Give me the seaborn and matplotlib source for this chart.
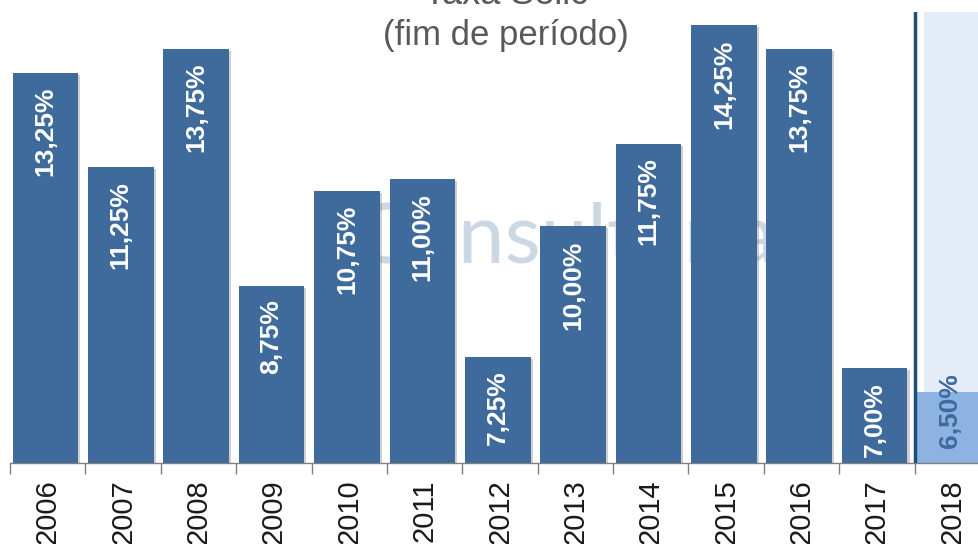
import matplotlib
matplotlib.use('Agg')
import matplotlib.pyplot as plt
import seaborn as sns
import pandas as pd
import numpy as np
from matplotlib import patheffects as pe

years = ['2006', '2007', '2008', '2009', '2010', '2011', '2012',
         '2013', '2014', '2015', '2016', '2017', '2018']
values = [13.25, 11.25, 13.75, 8.75, 10.75, 11.00, 7.25,
          10.00, 11.75, 14.25, 13.75, 7.00, 6.50]
labels = ['13,25%', '11,25%', '13,75%', '8,75%', '10,75%', '11,00%', '7,25%',
          '10,00%', '11,75%', '14,25%', '13,75%', '7,00%', '6,50%']
title_top = 'Taxa Selic'
title_sub = '(fim de período)'
watermark = 'Consultoria'

sns.set_theme(style='white')
plt.rcParams['font.family'] = ['Liberation Sans', 'DejaVu Sans']

W, H = 979, 544
fig = plt.figure(figsize=(W / 100, H / 100), dpi=100)
ax = fig.add_axes([10 / W, 81 / H, 980 / W, 451 / H])

dark = '#3E6A9C'
light = '#8DB3E2'
colors = [dark] * 12 + [light]
df = pd.DataFrame({'year': years, 'value': values})

ax.axvspan(11.66, 12.6, color='#E4ECF7', zorder=0, lw=0)
ax.text(355 / W, 1 - 262 / H, watermark, transform=fig.transFigure,
        fontsize=60, color='#CBD7E2', zorder=1, ha='left', va='baseline',
        family=['Lato', 'DejaVu Sans'])

sns.barplot(data=df, x='year', y='value', hue='year', palette=colors,
            width=0.87, legend=False, ax=ax, saturation=1, zorder=3)
for p in ax.patches:
    p.set_x(p.get_x() - 0.03)
    p.set_path_effects([pe.SimplePatchShadow(offset=(1.5, -1.5), shadow_rgbFace='#777777', alpha=0.35),
                        pe.Normal()])
    p.set_linewidth(0)

ax.set_ylim(5, 14.53)
ax.set_xlim(-0.5, 12.5)
ax.axvline(11.5, color='#1F4E79', lw=2.5, zorder=5)

for i, (v, lab) in enumerate(zip(values, labels)):
    if i < 12:
        ax.annotate(lab, (i - 0.03, v), xytext=(0, -10), textcoords='offset points',
                    rotation=90, ha='center', va='top', color='white',
                    fontsize=19, fontweight='bold', zorder=6)
    else:
        ax.annotate(lab, (i - 0.03, 5), xytext=(0, 11), textcoords='offset points',
                    rotation=90, ha='center', va='bottom', color=dark,
                    fontsize=19, fontweight='bold', zorder=6)

for s in ['left', 'right', 'top']:
    ax.spines[s].set_visible(False)
ax.spines['bottom'].set_color('#808080')
ax.spines['bottom'].set_linewidth(1)
ax.spines['bottom'].set_zorder(7)

ax.set_yticks([])
ax.set_xticks(range(13))
ax.set_xticklabels(years, rotation=90, fontsize=21, color='#1a1a1a')
ax.set_xticks(np.arange(-0.5, 12.5, 1), minor=True)
ax.tick_params(axis='x', which='major', length=0, pad=12, bottom=True)
ax.tick_params(axis='x', which='minor', length=8, width=1, color='#808080',
               direction='out', bottom=True)
ax.set_xlabel('')
ax.set_ylabel('')

fig.text(506 / W, 1 - 4 / H, title_top, ha='center', va='baseline',
         fontsize=26, color='#595959')
fig.text(506 / W, 1 - 35 / H, title_sub, ha='center', va='center',
         fontsize=25, color='#595959')

fig.savefig('out.png', dpi=100)
